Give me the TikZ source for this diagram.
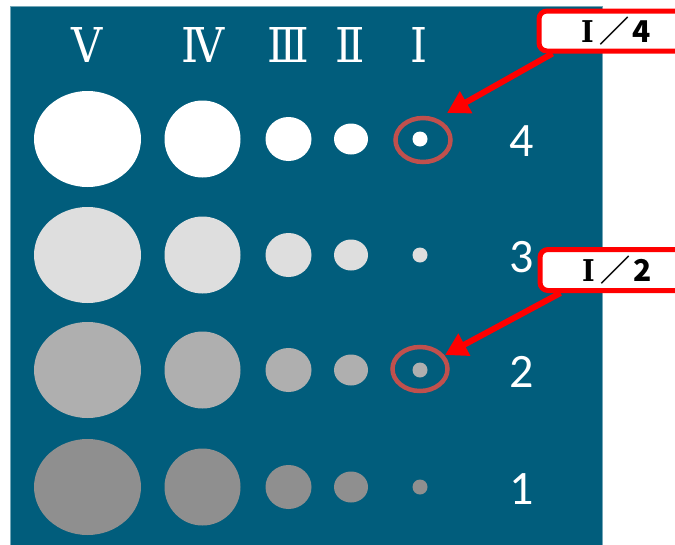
\documentclass[tikz,border=0pt]{standalone}
\usepackage{fontspec}
\usepackage{tikz}
\usetikzlibrary{shapes.geometric, arrows.meta, positioning}
\newfontfamily\cjk{Noto Sans CJK SC}
\newfontfamily\romfont{DejaVu Serif Condensed}
\newfontfamily\numfont{Carlito}
\definecolor{mypanel}{RGB}{1,93,124}
\definecolor{myring}{RGB}{192,80,77}
\definecolor{myred}{RGB}{255,0,0}
\definecolor{greylight}{RGB}{222,222,222}
\definecolor{greymid}{RGB}{175,175,175}
\definecolor{greydark}{RGB}{143,143,143}
\tikzset{
  spot/.style={ellipse, inner sep=0pt, outer sep=0pt},
  ring/.style={ellipse, draw=myring, line width=4.5pt, inner sep=0pt,
    minimum width=55pt, minimum height=44pt},
  colhdr/.style={text=white, inner sep=0pt,
    font=\romfont\fontsize{48}{48}\selectfont},
  rowlbl/.style={text=white, inner sep=0pt,
    font=\numfont\fontsize{48}{48}\selectfont},
  callout/.style={rectangle, draw=myred, fill=white, line width=5pt,
    rounded corners=8pt, minimum width=154pt, minimum height=40pt,
    font=\cjk\bfseries\fontsize{30}{30}\selectfont},
  pointer/.style={-{Triangle[length=22pt, width=24pt]}, line width=6pt, color=myred}
}
\newcommand{\calltext}[1]{{\romfont\bfseries Ⅰ}\hspace{6pt}／\hspace{3pt}#1}

\begin{document}
\begin{tikzpicture}[x=1pt, y=-1pt]
  \clip (0,0) rectangle (675,544);
  \fill[white] (0,0) rectangle (675,544);
  % Panel
  \draw[fill=mypanel, draw=mypanel!55!white, line width=0.8pt] (10,6) rectangle (602,560);

  % Column headers
  \node[colhdr] (h5) at (87.5,45) {Ⅴ};
  \node[colhdr] (h4) at (203,45) {Ⅳ};
  \node[colhdr] (h3) at (288,45) {Ⅲ};
  \node[colhdr] (h2) at (350,45) {Ⅱ};
  \node[colhdr] (h1) at (419,45) {Ⅰ};

  % Spots, one row per level
  \foreach \r/\yy/\shade in {4/139/white, 3/255/greylight, 2/370/greymid, 1/487/greydark} {
    \foreach \k/\xx/\w/\h in {5/87.5/107/96, 4/202.5/76/77, 3/288.5/46/44, 2/351/34/31, 1/420/15/15} {
      \node[spot, fill=\shade, minimum width=\w pt, minimum height=\h pt] (c-\r-\k) at (\xx,\yy) {};
    }
    \node[rowlbl] (lbl-\r) at (522,\yy+2) {\r};
  }

  % Marked spots
  \node[ring] (ring4) at (423,140) {};
  \node[ring] (ring2) at (420,369) {};

  % Callouts
  \node[callout] (call4) at (616,31) {\calltext{4}};
  \node[callout, minimum height=41pt] (call2) at (617,270) {\calltext{2}};
  \coordinate (tip4) at (447,113);
  \coordinate (tip2) at (445,355);
  \draw[pointer] ([xshift=16pt]call4.south west) -- (tip4);
  \draw[pointer] ([xshift=23pt]call2.south west) -- (tip2);
\end{tikzpicture}
\end{document}
